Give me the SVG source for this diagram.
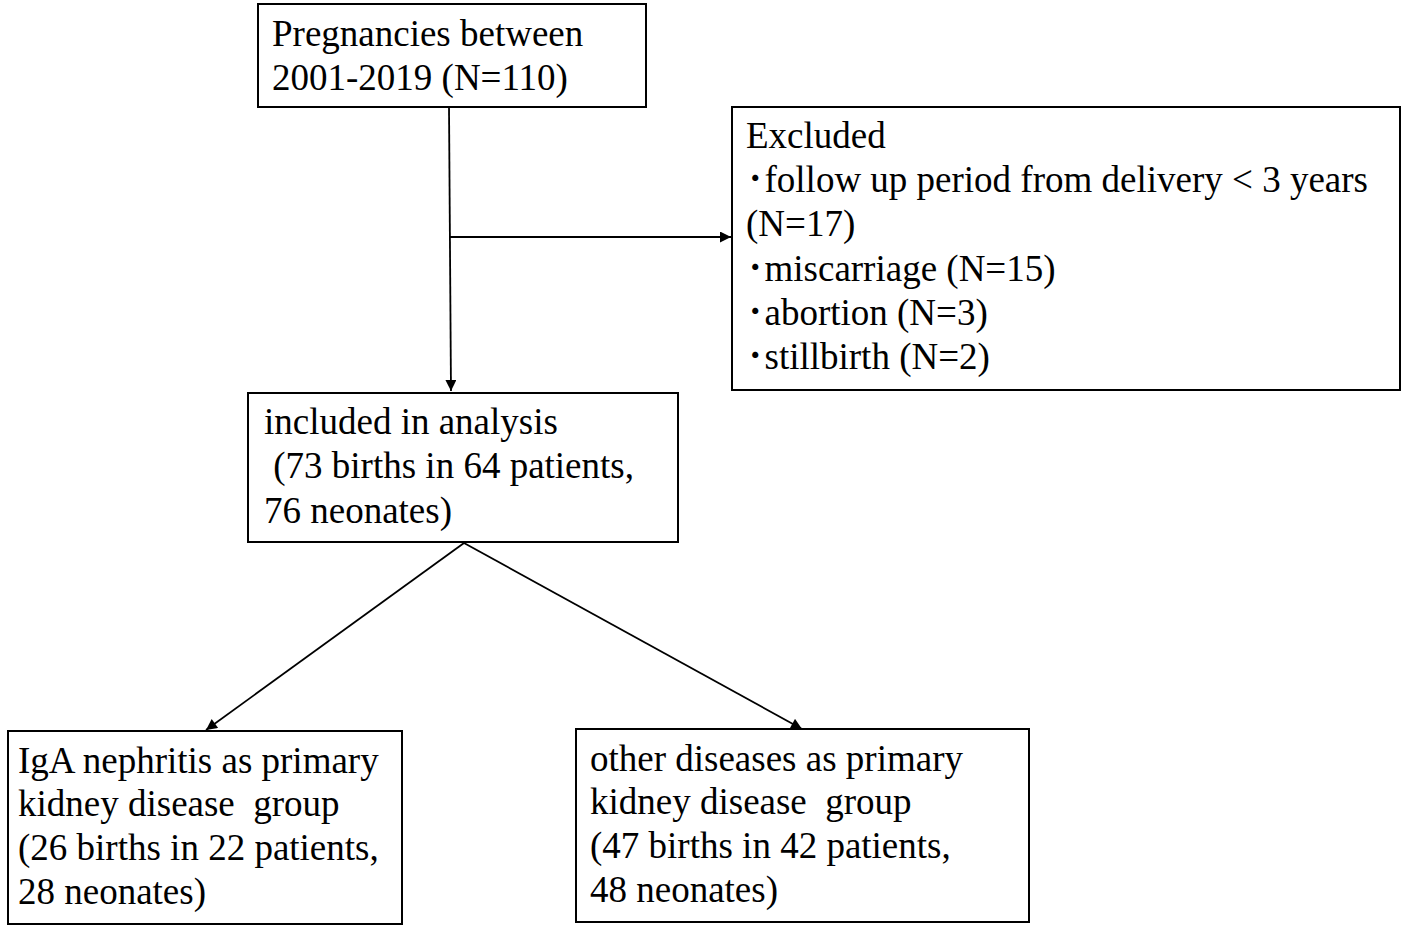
<svg xmlns="http://www.w3.org/2000/svg" width="1405" height="929" viewBox="0 0 1405 929">
<style>
  .box { fill: #fff; stroke: #000; stroke-width: 2; }
  .t { font-family: "Liberation Serif", "Noto Sans CJK JP", serif; font-size: 37px; fill: #000; white-space: pre; }
  .c { fill: none; stroke: #000; stroke-width: 1.8; }
</style>
<defs>
  <marker id="ah" viewBox="0 0 10 10" refX="10" refY="5" markerWidth="13" markerHeight="11" markerUnits="userSpaceOnUse" orient="auto">
    <path d="M0,0 L10,5 L0,10 Z" fill="#000"/>
  </marker>
</defs>
<rect width="1405" height="929" fill="#fff"/>
<g id="connectors">
  <line class="c" x1="449" y1="107" x2="451" y2="391" marker-end="url(#ah)"/>
  <line class="c" x1="450" y1="237" x2="731" y2="237" marker-end="url(#ah)"/>
  <line class="c" x1="464" y1="543" x2="206" y2="730" marker-end="url(#ah)"/>
  <line class="c" x1="464" y1="543" x2="802" y2="729" marker-end="url(#ah)"/>
</g>
<g id="node-pregnancies">
  <rect class="box" x="258" y="4" width="388" height="103"/>
  <text class="t" x="272" y="46">Pregnancies between</text>
  <text class="t" x="272" y="90">2001-2019 (N=110)</text>
</g>
<g id="node-excluded">
  <rect class="box" x="732" y="107" width="668" height="283"/>
  <text class="t" x="746" y="148">Excluded</text>
  <text class="t" x="746" y="192">･follow up period from delivery &lt; 3 years</text>
  <text class="t" x="746" y="236">(N=17)</text>
  <text class="t" x="746" y="281">･miscarriage (N=15)</text>
  <text class="t" x="746" y="325">･abortion (N=3)</text>
  <text class="t" x="746" y="369">･stillbirth (N=2)</text>
</g>
<g id="node-included">
  <rect class="box" x="248" y="393" width="430" height="149"/>
  <text class="t" x="264" y="434">included in analysis</text>
  <text class="t" x="264" y="478"> (73 births in 64 patients,</text>
  <text class="t" x="264" y="523">76 neonates)</text>
</g>
<g id="node-iga">
  <rect class="box" x="8" y="731" width="394" height="193"/>
  <text class="t" x="18" y="773">IgA nephritis as primary</text>
  <text class="t" x="18" y="816">kidney disease  group</text>
  <text class="t" x="18" y="860">(26 births in 22 patients,</text>
  <text class="t" x="18" y="904">28 neonates)</text>
</g>
<g id="node-other">
  <rect class="box" x="576" y="729" width="453" height="193"/>
  <text class="t" x="590" y="771">other diseases as primary</text>
  <text class="t" x="590" y="814">kidney disease  group</text>
  <text class="t" x="590" y="858">(47 births in 42 patients,</text>
  <text class="t" x="590" y="902">48 neonates)</text>
</g>
</svg>
